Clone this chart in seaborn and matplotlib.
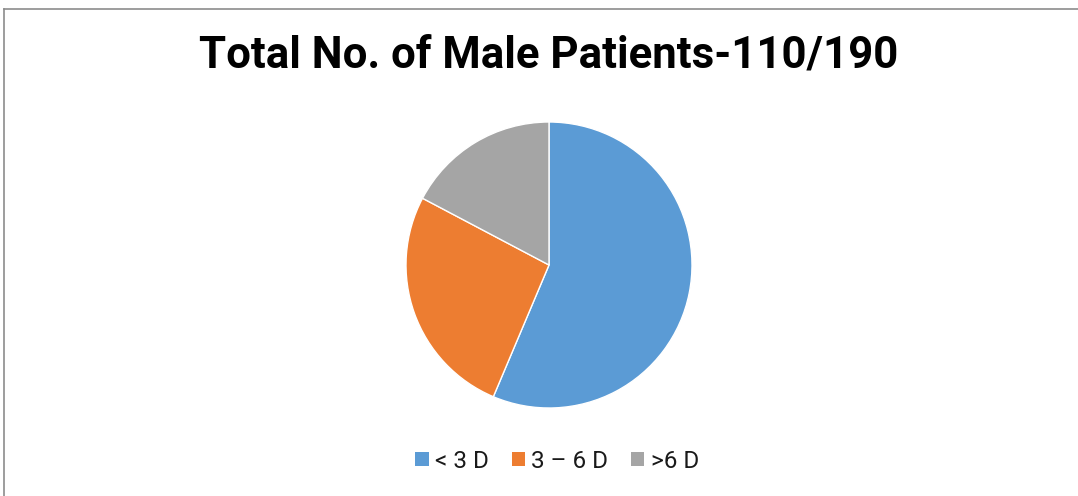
import matplotlib
matplotlib.use("Agg")
import matplotlib.pyplot as plt
import matplotlib.patches as mpatches
import seaborn as sns

# data (110 male patients)
labels = ["< 3 D", "3 \u2013 6 D", ">6 D"]
counts = [62, 29, 19]
colors = ["#5B9BD5", "#ED7D31", "#A5A5A5"]

sns.set_theme(style="white")
plt.rcParams['font.family'] = ['Roboto', 'DejaVu Sans']

fig = plt.figure(figsize=(10.78, 4.96), dpi=100)
W, H = 1078, 496

# chart frame (only top and left edges visible)
frame = fig.add_axes([4 / W, 0, 1.2, 1 - 9 / H])
frame.set_xticks([]); frame.set_yticks([])
for s in ["right", "bottom"]:
    frame.spines[s].set_visible(False)
for s in ["top", "left"]:
    frame.spines[s].set_color("#8c8c8c")
    frame.spines[s].set_linewidth(1.2)
frame.patch.set_alpha(0)

# pie
cx, cy, r = 549, 265, 143
ax = fig.add_axes([(cx - r) / W, 1 - (cy + r) / H, 2 * r / W, 2 * r / H])
ax.pie(counts, colors=colors, startangle=90, counterclock=False,
       wedgeprops=dict(edgecolor="white", linewidth=1))
ax.set_aspect("auto")
ax.set_xlim(-1, 1); ax.set_ylim(-1, 1)
ax.axis("off")

fig.text(549 / W, 1 - 56 / H, "Total No. of Male Patients-110/190",
         ha="center", va="center", fontsize=31.5, fontweight="bold", color="black")

handles = [mpatches.Patch(facecolor=c, edgecolor="none") for c in colors]
fig.legend(handles, labels, loc="center", bbox_to_anchor=(557 / W, 1 - 461 / H),
           ncol=3, frameon=False, fontsize=17.5, handlelength=0.55, handleheight=0.55,
           handletextpad=0.25, columnspacing=0.95, labelcolor="#1a1a1a")

fig.savefig("out.png", dpi=100)
